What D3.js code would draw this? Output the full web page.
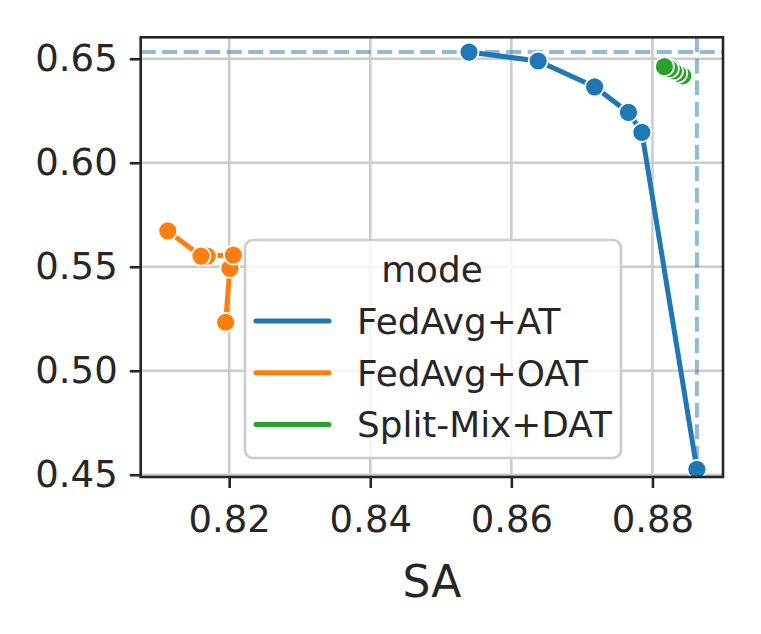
<!DOCTYPE html>
<html>
<head>
<meta charset="utf-8">
<script src="https://cdn.jsdelivr.net/npm/d3@7"></script>
<style>
  body { margin: 0; background: #fff; }
  text { font-family: "DejaVu Sans", sans-serif; fill: #262626; }
</style>
</head>
<body>
<div id="chart"></div>
<script>
// series are kept in the order they were recorded (right to left)
var modes = ["FedAvg+AT", "FedAvg+OAT", "Split-Mix+DAT"];
var colors = ["#1f77b4", "#ff7f0e", "#2ca02c"];

var atSA  = [0.8863, 0.8785, 0.8766, 0.8718, 0.8638, 0.8540];
var atRA  = [0.4526, 0.6146, 0.6242, 0.6365, 0.6489, 0.6532];
var oatSA = [0.8195, 0.8201, 0.8206, 0.8169, 0.8160, 0.8113];
var oatRA = [0.5233, 0.5492, 0.5556, 0.5551, 0.5551, 0.5672];
var datSA = [0.8843, 0.8836, 0.8830, 0.8824, 0.8817];
var datRA = [0.6418, 0.6430, 0.6441, 0.6452, 0.6462];

var xTicks = [0.82, 0.84, 0.86, 0.88];
var yTicks = [0.45, 0.50, 0.55, 0.60, 0.65];

var W = 761, H = 634;
var margin = {top: 37.3, right: 38, bottom: 157, left: 140.7};
var width = W - margin.left - margin.right,
    height = H - margin.top - margin.bottom;

var series = [
  {name: modes[0], sa: atSA, ra: atRA},
  {name: modes[1], sa: oatSA, ra: oatRA},
  {name: modes[2], sa: datSA, ra: datRA}
];
series.forEach(function(s, i) {
  s.color = colors[i];
  s.points = s.sa.map(function(v, j) { return [v, s.ra[j]]; });
});

var x = d3.scaleLinear().domain([0.80746, 0.8900]).range([0, width]);
var y = d3.scaleLinear().domain([0.4489, 0.6603]).range([height, 0]);

var svg = d3.select("#chart").append("svg")
  .attr("width", W).attr("height", H);
var g = svg.append("g").attr("transform", "translate(" + margin.left + "," + margin.top + ")");

// grid
g.append("g").selectAll("line").data(xTicks).enter().append("line")
  .attr("x1", function(d) { return x(d); }).attr("x2", function(d) { return x(d); })
  .attr("y1", 0).attr("y2", height)
  .attr("stroke", "#cccccc").attr("stroke-width", 2.6);
g.append("g").selectAll("line").data(yTicks).enter().append("line")
  .attr("y1", function(d) { return y(d); }).attr("y2", function(d) { return y(d); })
  .attr("x1", 0).attr("x2", width)
  .attr("stroke", "#cccccc").attr("stroke-width", 2.6);

// best values as reference lines
var maxSA = d3.max(atSA), maxRA = d3.max(atRA);
g.append("line")
  .attr("x1", 0).attr("x2", width).attr("y1", y(maxRA)).attr("y2", y(maxRA))
  .attr("stroke", "#1f77b4").attr("stroke-opacity", 0.5).attr("stroke-width", 4)
  .attr("stroke-dasharray", "15,6.5");
g.append("line")
  .attr("y1", 0).attr("y2", height).attr("x1", x(maxSA)).attr("x2", x(maxSA))
  .attr("stroke", "#1f77b4").attr("stroke-opacity", 0.5).attr("stroke-width", 4)
  .attr("stroke-dasharray", "15,6.5");

var line = d3.line().x(function(d) { return x(d[0]); }).y(function(d) { return y(d[1]); });

series.forEach(function(s) {
  var sg = g.append("g");
  sg.append("path").datum(s.points)
    .attr("d", line).attr("fill", "none")
    .attr("stroke", s.color).attr("stroke-width", 5)
    .attr("stroke-linecap", "round").attr("stroke-linejoin", "round");
  sg.selectAll("circle").data(s.points).enter().append("circle")
    .attr("cx", function(d) { return x(d[0]); })
    .attr("cy", function(d) { return y(d[1]); })
    .attr("r", 9.5)
    .attr("fill", s.color).attr("stroke", "#fff").attr("stroke-width", 1.8);
});

// axes
var xAxis = g.append("g").attr("transform", "translate(0," + height + ")")
  .call(d3.axisBottom(x).tickValues(xTicks).tickFormat(d3.format(".2f")).tickSize(11).tickPadding(18));
var yAxis = g.append("g")
  .call(d3.axisLeft(y).tickValues(yTicks).tickFormat(d3.format(".2f")).tickSize(11).tickPadding(12));
[xAxis, yAxis].forEach(function(a) {
  a.select(".domain").remove();
  a.selectAll(".tick line").attr("stroke", "#262626").attr("stroke-width", 2.6);
  a.selectAll(".tick text").attr("fill", "#262626").style("font-size", "37px")
    .style("font-family", "DejaVu Sans, sans-serif");
});
g.append("rect").attr("width", width).attr("height", height)
  .attr("fill", "none").attr("stroke", "#262626").attr("stroke-width", 2.6);

g.append("text").attr("x", width / 2).attr("y", height + 120)
  .attr("text-anchor", "middle").style("font-size", "44px").text("SA");

// legend
var lg = svg.append("g").attr("transform", "translate(245,240)");
lg.append("rect").attr("width", 376).attr("height", 218).attr("rx", 8)
  .attr("fill", "#fff").attr("fill-opacity", 0.8)
  .attr("stroke", "#cccccc").attr("stroke-width", 2.6);
lg.append("text").attr("x", 187).attr("y", 42).attr("text-anchor", "middle")
  .style("font-size", "35.8px").text("mode");
var items = lg.selectAll(".item").data(series).enter().append("g")
  .attr("transform", function(d, i) { return "translate(0," + (81 + i * 51.7) + ")"; });
items.append("line").attr("x1", 11).attr("x2", 84).attr("y1", 0).attr("y2", 0)
  .attr("stroke", function(d) { return d.color; }).attr("stroke-width", 5)
  .attr("stroke-linecap", "round");
items.append("text").attr("x", 112).attr("y", 12.8)
  .style("font-size", "35.8px").text(function(d) { return d.name; });
</script>
</body>
</html>
